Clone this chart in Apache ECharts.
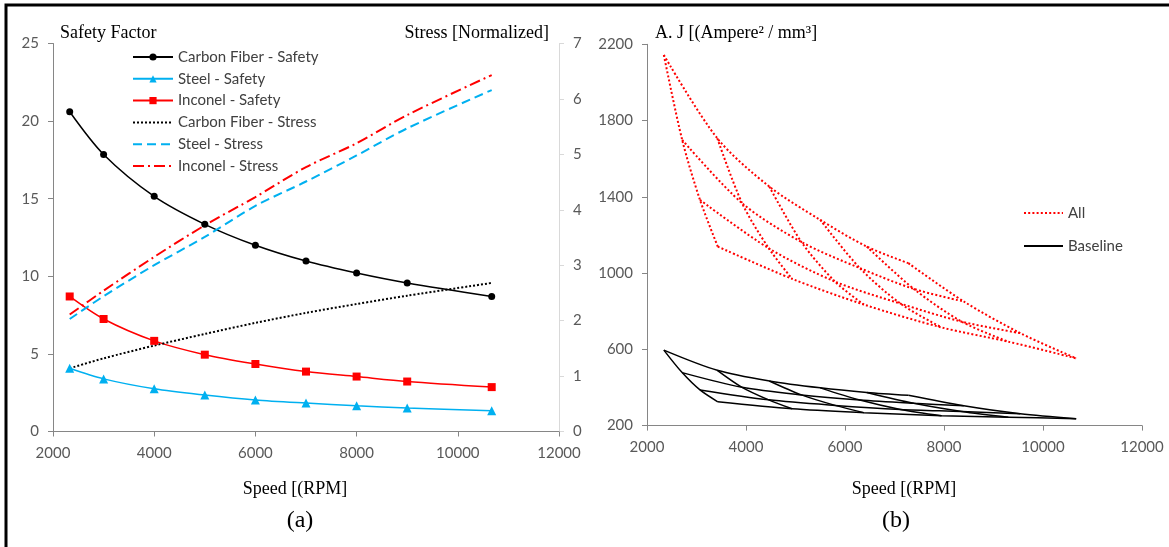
<!DOCTYPE html>
<html>
<head>
<meta charset="utf-8">
<script src="https://cdn.jsdelivr.net/npm/echarts@6/dist/echarts.min.js"></script>
<style>
  html, body { margin: 0; padding: 0; background: #fff; }
  #chart { width: 1169px; height: 547px; }
</style>
</head>
<body>
<div id="chart"></div>
<script>
// (a) safety factor / normalized stress vs speed
const speedA = [2330, 3000, 4000, 5000, 6000, 7000, 8000, 9000, 10670];
const carbonSafety = [20.6, 17.85, 15.15, 13.35, 12.0, 10.98, 10.21, 9.57, 8.7];
const steelSafety = [4.07, 3.39, 2.75, 2.35, 2.03, 1.83, 1.66, 1.51, 1.34];
const inconelSafety = [8.7, 7.25, 5.84, 4.95, 4.35, 3.86, 3.54, 3.22, 2.86];
const carbonStress = [1.14, 1.32, 1.55, 1.76, 1.96, 2.14, 2.3, 2.45, 2.68];
const steelStress = [2.03, 2.44, 3.0, 3.51, 4.07, 4.51, 4.98, 5.47, 6.16];
const inconelStress = [2.11, 2.54, 3.15, 3.72, 4.23, 4.77, 5.2, 5.71, 6.43];

// (b) A.J mesh: 4 rows x 6 columns, same speed grid for both sets
const meshSpeed = [
  [2340, 3420, 4470, 5500, 6440, 7280],
  [2710, 3920, 5120, 6300, 7390, 8400],
  [3070, 4460, 5800, 7120, 8360, 9540],
  [3430, 4930, 6380, 7950, 9300, 10670],
];
const allAJ = [
  [2144, 1707, 1454, 1279, 1139, 1052],
  [1699, 1367, 1163, 1026, 917, 851],
  [1384, 1130, 955, 840, 745, 685],
  [1139, 970, 835, 715, 640, 553],
];
const baselineAJ = [
  [596, 490, 434, 398, 374, 359],
  [478, 401, 361, 334, 317, 304],
  [387, 335, 306, 285, 274, 262],
  [325, 288, 268, 252, 244, 236],
];

const xTicks = [2000, 4000, 6000, 8000, 10000, 12000];

const SANS = 'Lato, "Open Sans", sans-serif';
const SERIF = '"Liberation Serif", "DejaVu Serif", serif';
const LABEL = '#595959';
const BLUE = '#00B0F0';
const RED = '#FF0000';
// 无标记的线：图例里不要画圆点
const NO_MARK = { color: 'rgba(0,0,0,0)', borderWidth: 0 };

const pairs = (xs, ys) => xs.map((x, i) => [x, ys[i]]);
const plain = (v) => String(v);

function meshSeries(name, values, color, dash, width) {
  const out = [];
  const style = { color, width, type: dash };
  const base = {
    name, type: 'line', xAxisIndex: 1, yAxisIndex: 2, smooth: 0.3,
    symbol: 'none', lineStyle: style, itemStyle: NO_MARK,
  };
  // rows
  values.forEach((row, r) => {
    out.push({ ...base, data: pairs(meshSpeed[r], row) });
  });
  // columns
  for (let c = 0; c < values[0].length; c++) {
    out.push({ ...base, data: values.map((row, r) => [meshSpeed[r][c], row[c]]) });
  }
  return out;
}

const axisX = (gridIndex) => ({
  type: 'value', gridIndex, min: xTicks[0], max: xTicks[xTicks.length - 1], interval: 2000,
  axisLine: { lineStyle: { color: '#868686', width: 1 } },
  axisTick: { show: true, length: 5, lineStyle: { color: '#868686' } },
  axisLabel: { color: LABEL, fontFamily: SANS, fontSize: 15, margin: 14, formatter: plain },
  splitLine: { show: false },
});

const legendText = { color: '#404040', fontFamily: SANS, fontSize: 15, lineHeight: 16 };

const chart = echarts.init(document.getElementById('chart'), null, { renderer: 'canvas' });
chart.setOption({
  animation: false,
  backgroundColor: '#fff',
  grid: [
    { left: 53, top: 43.5, width: 506, height: 388 },
    { left: 647, top: 44.3, width: 495, height: 381.3 },
  ],
  xAxis: [axisX(0), axisX(1)],
  yAxis: [
    {
      type: 'value', gridIndex: 0, min: 0, max: 25, interval: 5, position: 'left',
      axisLine: { show: true, lineStyle: { color: '#868686' } },
      axisTick: { show: true, length: 5, lineStyle: { color: '#868686' } },
      axisLabel: { color: LABEL, fontFamily: SANS, fontSize: 15, margin: 14, formatter: plain },
      splitLine: { show: false },
    },
    {
      type: 'value', gridIndex: 0, min: 0, max: 7, interval: 1, position: 'right',
      axisLine: { show: true, lineStyle: { color: '#d9d9d9' } },
      axisTick: { show: true, length: 5, lineStyle: { color: '#d9d9d9' } },
      axisLabel: { color: LABEL, fontFamily: SANS, fontSize: 15, margin: 14, formatter: plain },
      splitLine: { show: false },
    },
    {
      type: 'value', gridIndex: 1, min: 200, max: 2200, interval: 400,
      axisLine: { show: true, lineStyle: { color: '#868686' } },
      axisTick: { show: true, length: 5, lineStyle: { color: '#868686' } },
      axisLabel: { color: LABEL, fontFamily: SANS, fontSize: 15, margin: 14, formatter: plain },
      splitLine: { show: false },
    },
  ],
  legend: [
    {
      orient: 'vertical', left: 132, top: 49, padding: 0,
      itemWidth: 40, itemHeight: 9, itemGap: 5.8, textStyle: legendText,
      data: ['Carbon Fiber - Safety', 'Steel - Safety', 'Inconel - Safety',
        'Carbon Fiber - Stress', 'Steel - Stress', 'Inconel - Stress'],
    },
    {
      orient: 'vertical', left: 1023, top: 205, padding: 0,
      itemWidth: 39, itemHeight: 9, itemGap: 17, textStyle: legendText,
      data: ['All', 'Baseline'],
    },
  ],
  series: [
    {
      name: 'Carbon Fiber - Safety', type: 'line', smooth: 0.3, yAxisIndex: 0,
      symbol: 'circle', symbolSize: 7, data: pairs(speedA, carbonSafety),
      lineStyle: { color: '#000', width: 1.5 }, itemStyle: { color: '#000' },
    },
    {
      name: 'Steel - Safety', type: 'line', smooth: 0.3, yAxisIndex: 0,
      symbol: 'triangle', symbolSize: 9, data: pairs(speedA, steelSafety),
      lineStyle: { color: BLUE, width: 1.5 }, itemStyle: { color: BLUE },
    },
    {
      name: 'Inconel - Safety', type: 'line', smooth: 0.3, yAxisIndex: 0,
      symbol: 'rect', symbolSize: 8, data: pairs(speedA, inconelSafety),
      lineStyle: { color: RED, width: 1.5 }, itemStyle: { color: RED },
    },
    {
      name: 'Carbon Fiber - Stress', type: 'line', smooth: 0.3, yAxisIndex: 1,
      symbol: 'none', data: pairs(speedA, carbonStress),
      lineStyle: { color: '#000', width: 2, type: [2, 2] }, itemStyle: NO_MARK,
    },
    {
      name: 'Steel - Stress', type: 'line', smooth: 0.3, yAxisIndex: 1,
      symbol: 'none', data: pairs(speedA, steelStress),
      lineStyle: { color: BLUE, width: 2, type: [9, 5] }, itemStyle: NO_MARK,
    },
    {
      name: 'Inconel - Stress', type: 'line', smooth: 0.3, yAxisIndex: 1,
      symbol: 'none', data: pairs(speedA, inconelStress),
      lineStyle: { color: RED, width: 2, type: [11, 4, 2, 4] }, itemStyle: NO_MARK,
    },
    ...meshSeries('All', allAJ, RED, [2, 2.2], 2),
    ...meshSeries('Baseline', baselineAJ, '#000', 'solid', 1.5),
  ],
  graphic: [
    {
      type: 'rect', silent: true,
      shape: { x: 6, y: 5, width: 1300, height: 700 },
      style: { fill: 'none', stroke: '#000', lineWidth: 3 },
    },
    { type: 'text', x: 60, y: 33, style: { text: 'Safety Factor', font: '18px ' + SERIF, fill: '#000', textVerticalAlign: 'middle' } },
    { type: 'text', x: 549, y: 33, style: { text: 'Stress [Normalized]', font: '18px ' + SERIF, fill: '#000', textAlign: 'right', textVerticalAlign: 'middle' } },
    { type: 'text', x: 655, y: 33, style: { text: 'A. J [(Ampere² / mm³]', font: '18px ' + SERIF, fill: '#000', textVerticalAlign: 'middle' } },
    { type: 'text', x: 295, y: 489, style: { text: 'Speed [(RPM]', font: '18px ' + SERIF, fill: '#000', textAlign: 'center', textVerticalAlign: 'middle' } },
    { type: 'text', x: 904, y: 489, style: { text: 'Speed [(RPM]', font: '18px ' + SERIF, fill: '#000', textAlign: 'center', textVerticalAlign: 'middle' } },
    { type: 'text', x: 300, y: 521, style: { text: '(a)', font: '24px ' + SERIF, fill: '#000', textAlign: 'center', textVerticalAlign: 'middle' } },
    { type: 'text', x: 896, y: 521, style: { text: '(b)', font: '24px ' + SERIF, fill: '#000', textAlign: 'center', textVerticalAlign: 'middle' } },
  ],
});
window.addEventListener('resize', () => chart.resize());
</script>
</body>
</html>
